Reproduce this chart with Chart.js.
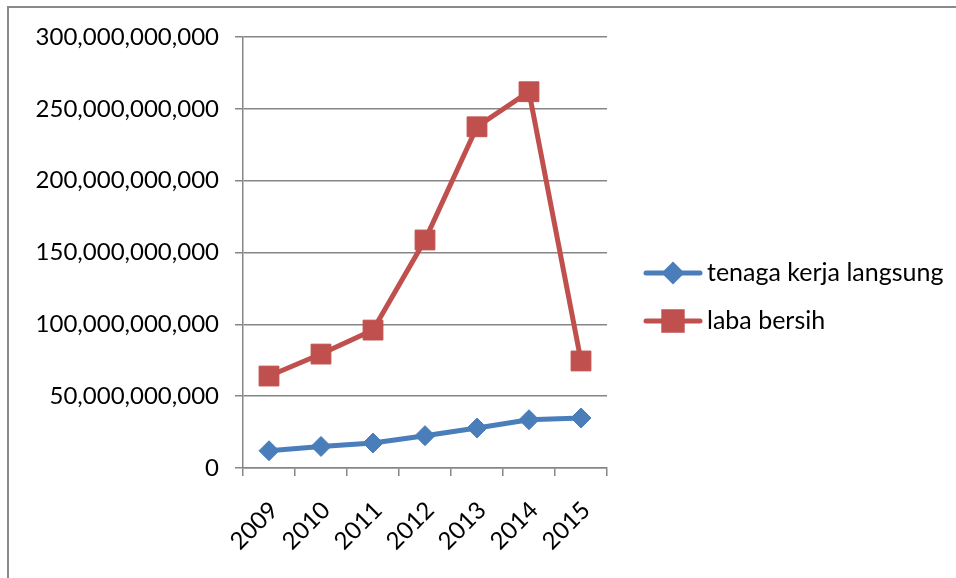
<!DOCTYPE html>
<html>
<head>
<meta charset="utf-8">
<script src="https://cdn.jsdelivr.net/npm/chart.js@4.4.1/dist/chart.umd.min.js"></script>
<style>
  html, body { margin: 0; padding: 0; background: #fff; overflow: hidden; }
  #wrap { position: relative; width: 956px; height: 578px; }
  #frame {
    position: absolute; left: 7px; top: 6px; width: 980px; height: 600px;
    border-top: 2px solid #8a8a8a; border-left: 2px solid #8a8a8a;
  }
  canvas { position: absolute; left: 0; top: 0; }
</style>
</head>
<body>
<div id="wrap">
  <div id="frame"></div>
  <canvas id="chart" width="956" height="578"></canvas>
</div>
<script>
// --- Chart Data ---
const years = ['2009', '2010', '2011', '2012', '2013', '2014', '2015'];
const tenagaKerja = [12.0e9, 15.0e9, 17.4e9, 22.5e9, 27.8e9, 33.6e9, 34.8e9];
const labaBersih = [64.0e9, 79.3e9, 96.0e9, 158.7e9, 237.5e9, 261.9e9, 74.5e9];
const seriesNames = ['tenaga kerja langsung', 'laba bersih'];

const FONT = 'Lato, "Open Sans", sans-serif';
const GRID = '#868686';

// legend drawn as line + marker, like office charts
const lineLegend = {
    id: 'lineLegend',
    afterDraw(chart) {
        const ctx = chart.ctx;
        const area = chart.chartArea;
        const x0 = area.right + 39;
        const rowY = [area.top + 236, area.top + 284];
        chart.data.datasets.forEach((ds, i) => {
            const y = rowY[i];
            ctx.save();
            ctx.strokeStyle = ds.borderColor;
            ctx.lineWidth = 5;
            ctx.lineCap = 'round';
            ctx.beginPath();
            ctx.moveTo(x0, y);
            ctx.lineTo(x0 + 54, y);
            ctx.stroke();
            Chart.helpers.drawPoint(ctx, {
                pointStyle: ds.pointStyle,
                radius: ds.pointStyle === 'rect' ? 13 : 8,
                borderWidth: 1
            }, x0 + 27, y);
            ctx.fillStyle = ds.pointBackgroundColor;
            ctx.fill();
            ctx.fillStyle = '#000';
            ctx.font = '25px ' + FONT;
            ctx.textBaseline = 'middle';
            ctx.fillText(ds.label, x0 + 61, y);
            ctx.restore();
        });
    }
};

const ctx = document.getElementById('chart').getContext('2d');
const chart = new Chart(ctx, {
    type: 'line',
    data: {
        labels: years,
        datasets: [{
            label: seriesNames[0],
            data: tenagaKerja,
            borderColor: '#4a7ebb',
            backgroundColor: '#4a7ebb',
            pointBackgroundColor: '#4a7ebb',
            pointBorderColor: '#4a7ebb',
            pointStyle: 'rectRot',
            pointRadius: 10,
            pointBorderWidth: 1,
            borderWidth: 5,
            tension: 0
        }, {
            label: seriesNames[1],
            data: labaBersih,
            borderColor: '#c0504d',
            backgroundColor: '#c0504d',
            pointBackgroundColor: '#c0504d',
            pointBorderColor: '#c0504d',
            pointStyle: 'rect',
            pointRadius: 14,
            pointBorderWidth: 1,
            borderWidth: 5,
            tension: 0
        }]
    },
    options: {
        responsive: false,
        animation: false,
        layout: { padding: { left: 0, top: 37, right: 349, bottom: 0 } },
        plugins: {
            legend: { display: false },
            tooltip: { enabled: false }
        },
        scales: {
            x: {
                offset: true,
                grid: { offset: true, drawOnChartArea: false, drawTicks: true, tickLength: 8, color: GRID, lineWidth: 1.5 },
                border: { color: GRID, width: 1.5 },
                ticks: { color: '#000', font: { family: FONT, size: 24 }, minRotation: 45, maxRotation: 45, padding: 20, labelOffset: 5 },
                afterFit(scale) { scale.height = 110; }
            },
            y: {
                min: 0,
                max: 300e9,
                ticks: {
                    stepSize: 50e9,
                    color: '#000',
                    font: { family: FONT, size: 24 },
                    padding: 16,
                    callback: v => v.toLocaleString('en-US')
                },
                grid: { color: GRID, lineWidth: 1.5, tickLength: 8 },
                border: { color: GRID, width: 1.5 },
                afterFit(scale) { scale.width = 243; }
            }
        }
    },
    plugins: [lineLegend]
});
</script>
</body>
</html>
